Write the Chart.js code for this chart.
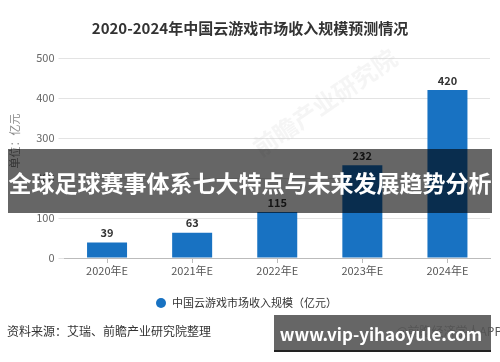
<!DOCTYPE html>
<html>
<head>
<meta charset="utf-8">
<script src="https://cdn.jsdelivr.net/npm/chart.js@4.4.1/dist/chart.umd.min.js"></script>
<style>
  html, body { margin: 0; padding: 0; background: #fff; }
  #wrap { width: 500px; height: 362px; }
</style>
</head>
<body>
<div id="wrap"><canvas id="chart"></canvas></div>
<script>
const years = ['2020年E', '2021年E', '2022年E', '2023年E', '2024年E'];
const revenue = [39, 63, 115, 232, 420];
const yTicks = [0, 100, 200, 300, 400, 500];

const titleText = '2020-2024年中国云游戏市场收入规模预测情况';
const seriesName = '中国云游戏市场收入规模（亿元）';
const unitText = '单位：亿元';
const sourceText = '资料来源：艾瑞、前瞻产业研究院整理';
const brandText = '@前瞻经济学人APP';
const bannerText = '全球足球赛事体系七大特点与未来发展趋势分析';
const siteText = 'www.vip-yihaoyule.com';

const FONT = '"Noto Sans CJK SC", "Noto Sans", sans-serif';
const BLUE = '#1872c2';

// labels above the bars
const valueLabels = {
  id: 'valueLabels',
  afterDatasetsDraw(chart) {
    const ctx = chart.ctx;
    const meta = chart.getDatasetMeta(0);
    ctx.save();
    ctx.font = 'bold 11px ' + FONT;
    ctx.fillStyle = '#333';
    ctx.textAlign = 'center';
    ctx.textBaseline = 'bottom';
    meta.data.forEach((bar, i) => {
      ctx.fillText(revenue[i], bar.x, bar.y - 4);
    });
    ctx.restore();
  }
};

// title, legend, notes and the overlays
const extras = {
  id: 'extras',
  beforeDatasetsDraw(chart) {
    const ctx = chart.ctx;
    ctx.save();
    // faint watermark of the source
    ctx.translate(330, 110);
    ctx.rotate(-0.6);
    ctx.font = 'bold 24px ' + FONT;
    ctx.fillStyle = 'rgba(200,200,200,0.18)';
    ctx.textAlign = 'center';
    ctx.fillText('前瞻产业研究院', 0, 0);
    ctx.restore();
  },
  afterDraw(chart) {
    const ctx = chart.ctx;
    ctx.save();

    ctx.font = 'bold 15px ' + FONT;
    ctx.fillStyle = '#333';
    ctx.textAlign = 'center';
    ctx.textBaseline = 'middle';
    ctx.fillText(titleText, 250, 28);

    // unit on the y axis
    ctx.save();
    ctx.translate(15, 141);
    ctx.rotate(-Math.PI / 2);
    ctx.font = '11px ' + FONT;
    ctx.fillStyle = '#888';
    ctx.fillText(unitText, 0, 0);
    ctx.restore();

    // legend
    ctx.beginPath();
    ctx.arc(161, 303, 5, 0, Math.PI * 2);
    ctx.fillStyle = BLUE;
    ctx.fill();
    ctx.font = '11px ' + FONT;
    ctx.fillStyle = '#333';
    ctx.textAlign = 'left';
    ctx.fillText(seriesName, 172, 303);

    // source notes
    ctx.font = '12px ' + FONT;
    ctx.fillStyle = '#333';
    ctx.fillText(sourceText, 7, 331);
    ctx.textAlign = 'right';
    ctx.fillStyle = '#555';
    ctx.fillText(brandText, 502, 331);

    // banner across the middle
    ctx.fillStyle = 'rgba(0,0,0,0.6)';
    ctx.fillRect(8, 149, 484, 64);
    ctx.font = 'bold 23px ' + FONT;
    ctx.fillStyle = '#fff';
    ctx.textAlign = 'center';
    ctx.fillText(bannerText, 250, 183);

    // site box, bottom right
    ctx.fillStyle = 'rgba(85,85,85,0.9)';
    ctx.fillRect(274, 315, 217, 37);
    ctx.fillStyle = '#222';
    ctx.fillRect(274, 350, 217, 2);
    ctx.font = 'bold 17px ' + FONT;
    ctx.fillStyle = '#fff';
    ctx.fillText(siteText, 381, 335);

    ctx.restore();
  }
};

new Chart(document.getElementById('chart'), {
  type: 'bar',
  data: {
    labels: years,
    datasets: [{
      label: seriesName,
      data: revenue,
      backgroundColor: BLUE,
      barPercentage: 0.94,
      categoryPercentage: 0.5
    }]
  },
  options: {
    responsive: true,
    maintainAspectRatio: false,
    animation: false,
    layout: { padding: { left: 0, right: 10, top: 58, bottom: 80 } },
    plugins: {
      legend: { display: false },
      title: { display: false },
      tooltip: { enabled: false }
    },
    scales: {
      x: {
        afterFit(scale) { scale.height = 24; },
        grid: {
          offset: false,
          drawOnChartArea: false,
          tickLength: 5,
          color: '#bbb'
        },
        border: { color: '#bbb' },
        ticks: { color: '#555', font: { size: 11, family: FONT }, padding: 1 }
      },
      y: {
        min: 0,
        max: 500,
        afterFit(scale) { scale.width = 64.5; },
        afterBuildTicks(scale) { scale.ticks = yTicks.map(v => ({ value: v })); },
        grid: { color: '#e3e3e3', tickLength: 6 },
        border: { display: false },
        ticks: { color: '#666', font: { size: 11, family: FONT }, padding: 4 }
      }
    }
  },
  plugins: [valueLabels, extras]
});
</script>
</body>
</html>
